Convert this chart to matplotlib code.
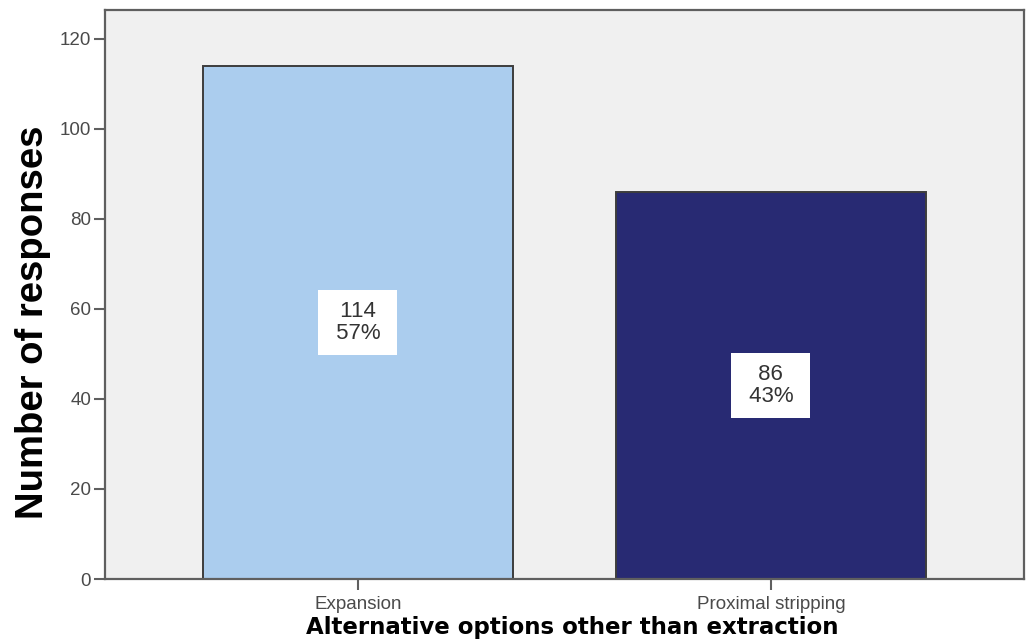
import matplotlib.pyplot as plt

# Data
categories = ["Expansion", "Proximal stripping"]
counts = [114, 86]
percents = [57, 43]

LIGHT = "#abcdee"
DARK = "#282a73"
BG = "#f0f0f0"
SPINE = "#5f5f5f"
TEXT = "#4a4a4a"

fig = plt.figure(figsize=(10.26, 6.41), dpi=100)
ax = fig.add_axes([0.1023, 0.0967, 0.8957, 0.8877])
ax.set_facecolor(BG)

x = range(len(categories))
bars = ax.bar(x, counts, width=0.75, color=[LIGHT, DARK],
              edgecolor="#3d3d3d", linewidth=1.4, zorder=2)

# white label boxes: a space each side widens the box like the original
for b, n, p in zip(bars, counts, percents):
    ax.text(b.get_x() + b.get_width() / 2, n / 2, f" {n} \n {p}% ",
            ha="center", va="center", fontsize=16, color="#333333",
            family="Liberation Sans", linespacing=1.05, zorder=3,
            bbox=dict(boxstyle="square,pad=0.5", fc="white", ec="none"))

ax.set_xlim(-0.6125, 1.6125)
ax.set_ylim(0, 126.4)
ax.set_yticks([0, 20, 40, 60, 80, 100, 120])
ax.set_xticks(list(x))
ax.set_xticklabels(categories)

for lbl in ax.get_xticklabels() + ax.get_yticklabels():
    lbl.set_family("Liberation Sans")
    lbl.set_fontsize(13.5)
    lbl.set_color(TEXT)
ax.tick_params(axis="both", direction="out", length=8, width=1.5, color=SPINE, pad=2)
ax.tick_params(axis="x", pad=4)

for s in ax.spines.values():
    s.set_color(SPINE)
    s.set_linewidth(1.6)

ax.set_ylabel("Number of responses", fontsize=27.5, fontweight="bold",
              family="Liberation Sans", color="black", va="center")
ax.yaxis.set_label_coords(-0.078, 0.4517)
ax.set_xlabel("Alternative options other than extraction", fontsize=16.5,
              fontweight="bold", family="DejaVu Sans", color="black", va="center")
ax.xaxis.set_label_coords(0.509, -0.0844)

fig.savefig("out.png", dpi=100)
